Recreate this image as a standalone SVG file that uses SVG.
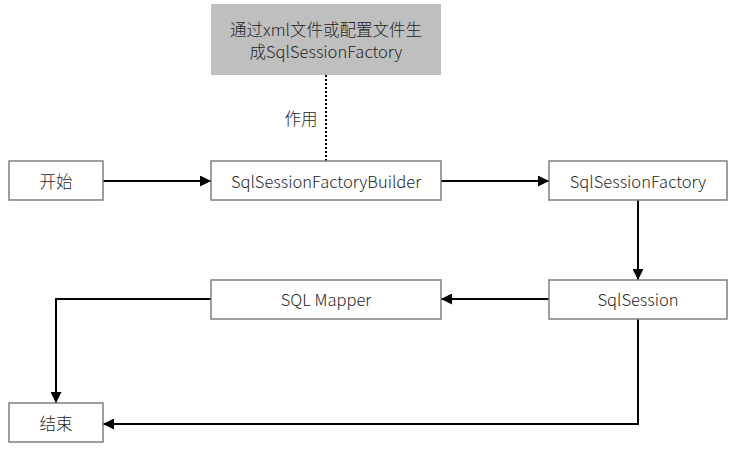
<svg xmlns="http://www.w3.org/2000/svg" width="736" height="449" viewBox="0 0 736 449">
<defs>
<style>
.box{fill:#ffffff;stroke:#7f7f7f;stroke-width:1.5}
.note{fill:#bfbfbf;stroke:none}
.t{font-family:"Noto Sans CJK SC","Noto Sans",sans-serif;font-size:16.5px;font-weight:300;fill:#262626;text-anchor:middle;dominant-baseline:central}
.c{fill:none;stroke:#000000;stroke-width:2}
.d{fill:none;stroke:#000000;stroke-width:2;stroke-dasharray:2 2}
</style>
<marker id="ah" viewBox="0 0 10 10" refX="10" refY="5" markerWidth="5.5" markerHeight="5.5" orient="auto" markerUnits="strokeWidth">
<path d="M0,0 L10,5 L0,10 z" fill="#000000"/>
</marker>
</defs>
<rect width="736" height="449" fill="#ffffff"/>
<g id="connectors">
<line class="d" x1="326" y1="75" x2="326" y2="161"/>
<line class="c" x1="103" y1="181" x2="211" y2="181" marker-end="url(#ah)"/>
<line class="c" x1="441" y1="181" x2="549" y2="181" marker-end="url(#ah)"/>
<line class="c" x1="638" y1="200" x2="638" y2="280" marker-end="url(#ah)"/>
<line class="c" x1="549" y1="299" x2="441" y2="299" marker-end="url(#ah)"/>
<polyline class="c" points="211,299 56,299 56,403" marker-end="url(#ah)"/>
<polyline class="c" points="638,319 638,424 103,424" marker-end="url(#ah)"/>
<text class="t" x="301" y="118">作用</text>
</g>
<g id="note">
<rect class="note" x="211" y="4" width="230" height="71"/>
<text class="t" x="326" y="29">通过xml文件或配置文件生</text>
<text class="t" x="326" y="51">成SqlSessionFactory</text>
</g>
<g id="start">
<rect class="box" x="9" y="161" width="94" height="39"/>
<text class="t" x="56" y="181">开始</text>
</g>
<g id="builder">
<rect class="box" x="211" y="161" width="230" height="39"/>
<text class="t" x="326" y="181">SqlSessionFactoryBuilder</text>
</g>
<g id="factory">
<rect class="box" x="549" y="161" width="178" height="39"/>
<text class="t" x="638" y="181">SqlSessionFactory</text>
</g>
<g id="session">
<rect class="box" x="549" y="280" width="178" height="39"/>
<text class="t" x="638" y="299">SqlSession</text>
</g>
<g id="mapper">
<rect class="box" x="211" y="280" width="230" height="39"/>
<text class="t" x="326" y="299">SQL Mapper</text>
</g>
<g id="end">
<rect class="box" x="9" y="403" width="94" height="39"/>
<text class="t" x="56" y="423">结束</text>
</g>
</svg>
